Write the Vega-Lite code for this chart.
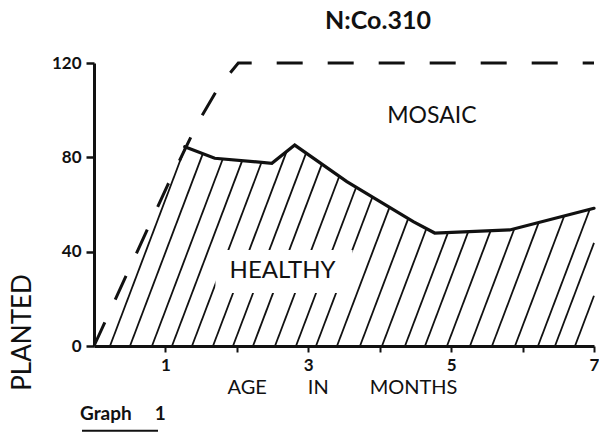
{
  "$schema": "https://vega.github.io/schema/vega-lite/v6.json",
  "width": 500,
  "height": 283,
  "autosize": {"type": "none"},
  "padding": {"left": 94, "top": 63, "right": 5, "bottom": 89},
  "background": "white",
  "config": {
    "font": "Lato",
    "view": {"stroke": null},
    "axis": {"grid": false, "domainColor": "#111", "tickColor": "#111", "labelColor": "#111", "titleColor": "#111", "labelFont": "Lato", "titleFont": "Lato"}
  },
  "title": {"text": "N:Co.310", "fontSize": 25, "fontWeight": "bold", "font": "Lato", "color": "#111", "anchor": "middle", "dx": 34, "offset": 20},
  "datasets": {
    "healthy": [
      {"x": 1.27, "y": 84.5},
      {"x": 1.69, "y": 79.6},
      {"x": 2.49, "y": 77.5},
      {"x": 2.81, "y": 85.2},
      {"x": 3.54, "y": 69.7},
      {"x": 4.47, "y": 52.7},
      {"x": 4.77, "y": 47.9},
      {"x": 5.82, "y": 49.2},
      {"x": 7.0, "y": 58.4}
    ],
    "mosaic": [
      {"x": 0, "y": 0},
      {"x": 1.02, "y": 67.5},
      {"x": 1.45, "y": 94.5},
      {"x": 1.75, "y": 110},
      {"x": 2.02, "y": 120},
      {"x": 7.0, "y": 120}
    ],
    "hatch": [
      {"x": 0.224, "y": 0, "x2": 1.280, "y2": 84.5},
      {"x": 0.504, "y": 0, "x2": 1.524, "y2": 81.6},
      {"x": 0.812, "y": 0, "x2": 1.803, "y2": 79.3},
      {"x": 1.092, "y": 0, "x2": 2.075, "y2": 78.6},
      {"x": 1.372, "y": 0, "x2": 2.346, "y2": 77.9},
      {"x": 1.666, "y": 0, "x2": 2.697, "y2": 82.5},
      {"x": 1.946, "y": 0, "x2": 2.969, "y2": 81.8},
      {"x": 2.226, "y": 0, "x2": 3.190, "y2": 77.1},
      {"x": 2.534, "y": 0, "x2": 3.434, "y2": 72.0},
      {"x": 2.828, "y": 0, "x2": 3.670, "y2": 67.3},
      {"x": 3.108, "y": 0, "x2": 3.898, "y2": 63.2},
      {"x": 3.402, "y": 0, "x2": 4.137, "y2": 58.8},
      {"x": 3.724, "y": 0, "x2": 4.399, "y2": 54.0},
      {"x": 4.032, "y": 0, "x2": 4.652, "y2": 49.6},
      {"x": 4.354, "y": 0, "x2": 4.957, "y2": 48.2},
      {"x": 4.634, "y": 0, "x2": 5.241, "y2": 48.6},
      {"x": 4.942, "y": 0, "x2": 5.553, "y2": 48.9},
      {"x": 5.264, "y": 0, "x2": 5.885, "y2": 49.7},
      {"x": 5.572, "y": 0, "x2": 6.227, "y2": 52.4},
      {"x": 5.894, "y": 0, "x2": 6.583, "y2": 55.1},
      {"x": 6.216, "y": 0, "x2": 6.940, "y2": 57.9},
      {"x": 6.454, "y": 0, "x2": 7.0, "y2": 43.7},
      {"x": 6.734, "y": 0, "x2": 7.0, "y2": 21.3}
    ]
  },
  "layer": [
    {
      "data": {"name": "hatch"},
      "mark": {"type": "rule", "color": "#111", "strokeWidth": 1.8},
      "encoding": {
        "x": {
          "field": "x", "type": "quantitative",
          "scale": {"domain": [0, 7], "nice": false, "zero": false},
          "axis": {
            "values": [1, 2, 3, 4, 5, 6, 7],
            "format": "d",
            "labelExpr": "datum.value % 2 == 1 ? datum.label : ''",
            "tickSize": 6, "tickWidth": 2, "domainWidth": 3,
            "labelFontSize": 17, "labelFontWeight": "bold", "labelPadding": 5,
            "labelFlush": false, "labelOverlap": false,
            "title": "AGE\u00a0\u00a0\u00a0\u00a0\u00a0\u00a0\u00a0\u00a0IN\u00a0\u00a0\u00a0\u00a0\u00a0\u00a0\u00a0\u00a0MONTHS",
            "titleFontSize": 20, "titleFontWeight": "normal",
            "titleX": 248, "titleY": 47, "titleAlign": "center", "titleBaseline": "alphabetic"
          }
        },
        "y": {
          "field": "y", "type": "quantitative",
          "scale": {"domain": [0, 120], "nice": false},
          "axis": {
            "values": [0, 40, 80, 120],
            "format": "d",
            "tickSize": 8, "tickWidth": 2.5, "domainWidth": 3,
            "labelFontSize": 17, "labelFontWeight": "bold", "labelPadding": 5,
            "title": "PLANTED", "titleFontSize": 26, "titleFontWeight": "normal",
            "titleX": -71.5, "titleY": 269, "titleAlign": "center", "titleBaseline": "middle", "titleAngle": -90
          }
        },
        "x2": {"field": "x2"},
        "y2": {"field": "y2"}
      }
    },
    {
      "data": {"values": [{"label": "gap"}]},
      "mark": {"type": "rect", "fill": "white"},
      "encoding": {
        "x": {"datum": 1.70, "type": "quantitative"},
        "x2": {"datum": 3.62},
        "y": {"datum": 22.5, "type": "quantitative"},
        "y2": {"datum": 40.7}
      }
    },
    {
      "data": {"name": "healthy"},
      "mark": {"type": "line", "color": "#111", "strokeWidth": 3.2, "strokeCap": "round"},
      "encoding": {
        "x": {"field": "x", "type": "quantitative"},
        "y": {"field": "y", "type": "quantitative"}
      }
    },
    {
      "data": {"name": "mosaic"},
      "mark": {"type": "line", "color": "#111", "strokeWidth": 3, "strokeDash": [26, 25]},
      "encoding": {
        "x": {"field": "x", "type": "quantitative"},
        "y": {"field": "y", "type": "quantitative"}
      }
    },
    {
      "data": {"values": [{"label": "MOSAIC"}]},
      "mark": {"type": "text", "fontSize": 23, "font": "Lato", "color": "#111", "align": "center", "baseline": "middle"},
      "encoding": {
        "text": {"field": "label"},
        "x": {"datum": 4.73, "type": "quantitative"},
        "y": {"datum": 97.5, "type": "quantitative"}
      }
    },
    {
      "data": {"values": [{"label": "HEALTHY"}]},
      "mark": {"type": "text", "fontSize": 24, "font": "Lato", "color": "#111", "align": "center", "baseline": "middle"},
      "encoding": {
        "text": {"field": "label"},
        "x": {"datum": 2.64, "type": "quantitative"},
        "y": {"datum": 31.8, "type": "quantitative"}
      }
    },
    {
      "data": {"values": [{"label": "Graph\u00a0\u00a0\u00a0\u00a0\u00a01"}]},
      "mark": {"type": "text", "fontSize": 19, "fontWeight": "bold", "font": "Lato", "color": "#111", "align": "left", "baseline": "alphabetic"},
      "encoding": {
        "text": {"field": "label"},
        "x": {"datum": -0.196, "type": "quantitative"},
        "y": {"datum": -31.4, "type": "quantitative"}
      }
    },
    {
      "data": {"values": [{"label": "underline"}]},
      "mark": {"type": "rule", "color": "#111", "strokeWidth": 2},
      "encoding": {
        "x": {"datum": -0.168, "type": "quantitative"},
        "x2": {"datum": 0.896},
        "y": {"datum": -35.9, "type": "quantitative"}
      }
    }
  ]
}
